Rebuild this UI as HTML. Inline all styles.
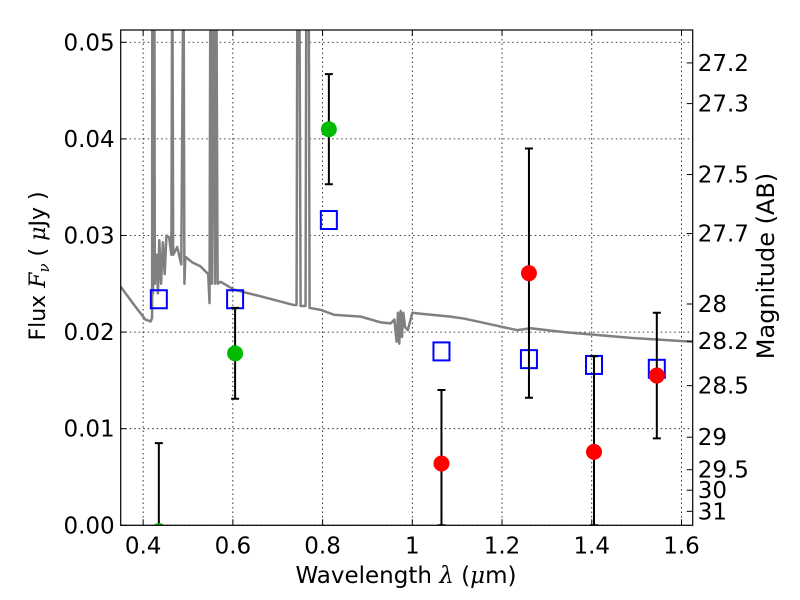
<!DOCTYPE html>
<html><head><meta charset="utf-8"><style>
body{margin:0;background:#fff;}
svg{display:block;font-family:"DejaVu Sans","Liberation Sans",sans-serif;}
</style></head><body>
<svg id="chart" width="800" height="600" viewBox="0 0 800 600" xmlns="http://www.w3.org/2000/svg" xml:space="preserve">
<defs><clipPath id="clip"><rect x="120.7" y="30" width="572" height="495.3"/></clipPath></defs>
<rect x="0" y="0" width="800" height="600" fill="#fff"/>
<g id="grid"></g>
<g id="spec" clip-path="url(#clip)"></g>
<g id="marks" clip-path="url(#clip)"></g>
<rect x="120.7" y="30" width="572" height="495.3" fill="none" stroke="#000" stroke-width="1.2"/>
<g id="axes"></g>
<text x="406" y="583" font-size="23" text-anchor="middle">Wavelength  <tspan font-family="DejaVu Serif" font-style="italic">λ</tspan> (<tspan font-family="DejaVu Serif" font-style="italic">μ</tspan>m)</text>
<text transform="translate(45,266) rotate(-90)" font-size="22" text-anchor="middle">Flux  <tspan font-family="DejaVu Serif" font-style="italic">F</tspan><tspan font-family="DejaVu Serif" font-style="italic" font-size="15" dy="4">ν</tspan><tspan dy="-4">  ( </tspan><tspan font-family="DejaVu Serif" font-style="italic">μ</tspan>Jy )</text>
<text transform="translate(774,266) rotate(-90)" font-size="24" text-anchor="middle">Magnitude (AB)</text>
</svg>
<script>
const xTicks=[0.4,0.6,0.8,1.0,1.2,1.4,1.6];
const xTickLabels=["0.4","0.6","0.8","1","1.2","1.4","1.6"];
const yTicks=[0,0.01,0.02,0.03,0.04,0.05];
const yTickLabels=["0.00","0.01","0.02","0.03","0.04","0.05"];
const magTicks=[27.2,27.3,27.5,27.7,28,28.2,28.5,29,29.5,30,31];
const magLabels=["27.2","27.3","27.5","27.7","28","28.2","28.5","29","29.5","30","31"];
const specWave=[0.35,0.38,0.405,0.417,0.420,0.4205,0.4215,0.422,0.425,0.426,0.43,0.433,0.436,0.44,0.444,0.448,0.452,0.458,0.463,0.465,0.467,0.476,0.485,0.490,0.492,0.494,0.51,0.528,0.545,0.548,0.55,0.553,0.556,0.56,0.563,0.566,0.573,0.602,0.662,0.736,0.742,0.744,0.748,0.751,0.762,0.764,0.769,0.771,0.796,0.825,0.885,0.93,0.952,0.96,0.965,0.968,0.971,0.974,0.977,0.98,0.984,0.99,1.0,1.019,1.085,1.115,1.145,1.234,1.264,1.338,1.487,1.625];
const specFlux=[0.0247,0.0228,0.0213,0.0211,0.0215,0.06,0.06,0.024,0.06,0.025,0.028,0.024,0.0295,0.025,0.0293,0.026,0.030,0.0298,0.028,0.06,0.028,0.0288,0.027,0.06,0.025,0.0278,0.0272,0.0268,0.026,0.023,0.06,0.025,0.06,0.025,0.06,0.025,0.0252,0.0244,0.0237,0.0228,0.0228,0.06,0.06,0.0227,0.0227,0.06,0.06,0.0225,0.0223,0.0218,0.0216,0.021,0.0209,0.0213,0.019,0.022,0.0188,0.0222,0.0195,0.022,0.0205,0.0202,0.022,0.0219,0.0216,0.0214,0.0211,0.0202,0.0204,0.02,0.0194,0.0190];
const modelWave=[0.435,0.605,0.814,1.065,1.26,1.405,1.545];
const modelFlux=[0.0234,0.0234,0.0316,0.018,0.0172,0.0166,0.0162];
const greenWave=[0.435,0.605,0.814];
const greenFlux=[-0.0006,0.0178,0.041];
const greenLo=[0.0,0.0131,0.0353];
const greenHi=[0.0085,0.0225,0.0467];
const redWave=[1.065,1.26,1.405,1.545];
const redFlux=[0.0064,0.0261,0.0076,0.0155];
const redLo=[0.0,0.0132,0.0,0.009];
const redHi=[0.014,0.039,0.0175,0.022];

const NS="http://www.w3.org/2000/svg";
const X0=120.7,X1=692.7,Y0=525.3,Y1=30,XMIN=0.35,XMAX=1.625,YMIN=0,YMAX=0.05127;
function sx(v){return X0+(v-XMIN)/(XMAX-XMIN)*(X1-X0);}
function sy(v){return Y0-(v-YMIN)/(YMAX-YMIN)*(Y0-Y1);}
function magToFlux(m){return Math.pow(10,(23.9-m)/2.5);}
function mk(tag,attrs,parent){const e=document.createElementNS(NS,tag);for(const k in attrs)e.setAttribute(k,attrs[k]);parent.appendChild(e);return e;}
const grid=document.getElementById('grid'),axes=document.getElementById('axes'),spec=document.getElementById('spec'),marks=document.getElementById('marks');

xTicks.forEach((t,i)=>{const x=sx(t);
 const g=mk('line',{x1:x,x2:x,y1:Y1,y2:Y0,stroke:'#000','stroke-width':0.8,'stroke-dasharray':'1.5,3'},grid);
 
 
 mk('line',{x1:x,x2:x,y1:Y0,y2:Y0-6,stroke:'#000','stroke-width':1},axes);
 mk('line',{x1:x,x2:x,y1:Y1,y2:Y1+6,stroke:'#000','stroke-width':1},axes);
 const tx=mk('text',{x:x,y:Y0+28,'font-size':23,'text-anchor':'middle'},axes);tx.textContent=xTickLabels[i];
 
 
});
yTicks.forEach((t,i)=>{const y=sy(t);
 const g=mk('line',{x1:X0,x2:X1,y1:y,y2:y,stroke:'#000','stroke-width':0.8,'stroke-dasharray':'1.5,3'},grid);
 
 
 mk('line',{x1:X0,x2:X0+6,y1:y,y2:y,stroke:'#000','stroke-width':1},axes);
 const tx=mk('text',{x:X0-6,y:y+8,'font-size':23,'text-anchor':'end'},axes);tx.textContent=yTickLabels[i];
 
 
});
magTicks.forEach((m,i)=>{const y=sy(magToFlux(m));
 mk('line',{x1:X1-6,x2:X1,y1:y,y2:y,stroke:'#000','stroke-width':1},axes);
 const tx=mk('text',{x:X1+5,y:y+8,'font-size':23,'text-anchor':'start'},axes);tx.textContent=magLabels[i];
 
 
});
let d='';specWave.forEach((w,i)=>{d+=(i?'L':'M')+sx(w).toFixed(2)+','+sy(specFlux[i]).toFixed(2);});
const sp=mk('path',{d:d,fill:'none',stroke:'#808080','stroke-width':2.5,'stroke-linejoin':'round'},spec);


modelWave.forEach((w,i)=>{
 const r=mk('rect',{x:sx(w)-8,y:sy(modelFlux[i])-9,width:16,height:18,fill:'none',stroke:'#0000ff','stroke-width':2},marks);
 
 
});
function errbar(w,lo,hi){const x=sx(w);
 const e=mk('path',{d:`M${x},${sy(lo)}L${x},${sy(hi)}M${x-4},${sy(hi)}L${x+4},${sy(hi)}M${x-4},${sy(lo)}L${x+4},${sy(lo)}`,stroke:'#000','stroke-width':2,fill:'none'},marks);
 
 
}
greenWave.forEach((w,i)=>{errbar(w,greenLo[i],greenHi[i]);
 const c=mk('circle',{cx:sx(w),cy:sy(greenFlux[i]),r:8,fill:'#00bb00'},marks);
 
 
});
redWave.forEach((w,i)=>{errbar(w,redLo[i],redHi[i]);
 const c=mk('circle',{cx:sx(w),cy:sy(redFlux[i]),r:8,fill:'#ff0000'},marks);
 
 
});
</script>
</body></html>
